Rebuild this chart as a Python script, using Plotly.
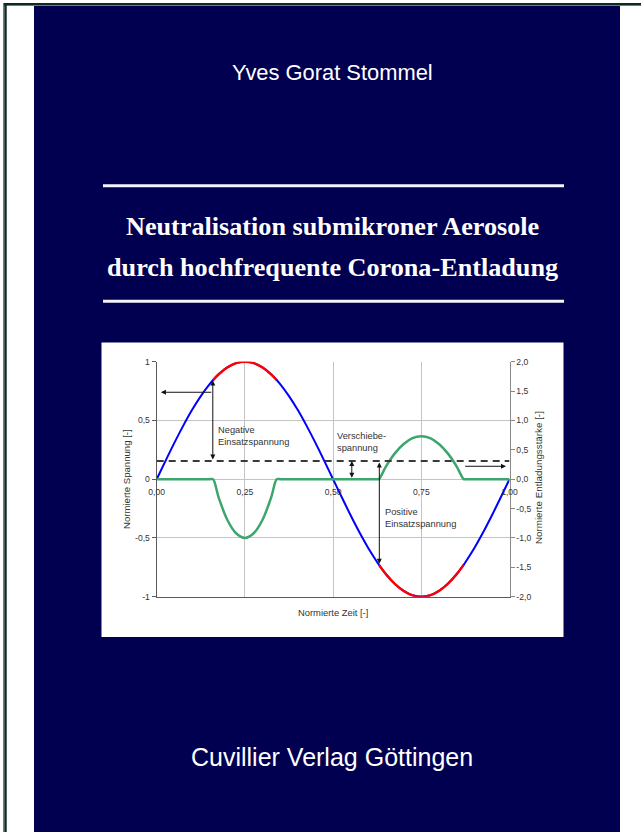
import plotly.graph_objects as go

W, H = 641, 832

# ---------------- data ----------------
time = [0, 0.025, 0.05, 0.075, 0.1, 0.125, 0.15, 0.16, 0.175, 0.2, 0.225, 0.25,
        0.275, 0.3, 0.325, 0.34, 0.35, 0.375, 0.4, 0.425, 0.45, 0.475, 0.5,
        0.525, 0.55, 0.575, 0.6, 0.625, 0.63, 0.65, 0.675, 0.7, 0.725, 0.75,
        0.775, 0.8, 0.825, 0.85, 0.87, 0.875, 0.9, 0.925, 0.95, 0.975, 1.0]
voltage = [0, 0.156, 0.309, 0.454, 0.588, 0.707, 0.809, 0.844, 0.891, 0.951, 0.988, 1.0,
           0.988, 0.951, 0.891, 0.844, 0.809, 0.707, 0.588, 0.454, 0.309, 0.156, 0,
           -0.156, -0.309, -0.454, -0.588, -0.707, -0.729, -0.809, -0.891, -0.951, -0.988, -1.0,
           -0.988, -0.951, -0.891, -0.809, -0.729, -0.707, -0.588, -0.454, -0.309, -0.156, 0]
discharge = [0, 0, 0, 0, 0, 0, 0, 0, -0.30, -0.69, -0.92, -1.0,
             -0.92, -0.69, -0.30, 0, 0, 0, 0, 0, 0, 0, 0,
             0, 0, 0, 0, 0, 0, 0.22, 0.44, 0.60, 0.70, 0.73,
             0.70, 0.60, 0.44, 0.22, 0, 0, 0, 0, 0, 0, 0]
neg_onset = 0.84      # red above this voltage
pos_onset = -0.72     # red below this voltage
shift_voltage = 0.155

x_ticks = [0, 0.25, 0.5, 0.75, 1.0]
x_ticklabels = ["0,00", "0,25", "0,50", "0,75", "1,00"]
y_ticks = [-1, -0.5, 0, 0.5, 1]
y_ticklabels = ["-1", "-0,5", "0", "0,5", "1"]
y2_ticks = [-2, -1.5, -1, -0.5, 0, 0.5, 1, 1.5, 2]
y2_ticklabels = ["-2,0", "-1,5", "-1,0", "-0,5", "0,0", "0,5", "1,0", "1,5", "2,0"]

author = "Yves Gorat Stommel"
title1 = "Neutralisation submikroner Aerosole"
title2 = "durch hochfrequente Corona-Entladung"
publisher = "Cuvillier Verlag Göttingen"

# ---------------- helpers ----------------
def px(x):
    return x / W

def py(y):
    return 1 - y / H

NAVY = "#010050"
SANS = "Liberation Sans, Arial, sans-serif"
SERIF = "Liberation Serif, Times New Roman, serif"
TXT = "#333333"

red_v = [v if (v >= neg_onset or v <= pos_onset) else None for v in voltage]

fig = go.Figure()
fig.add_trace(go.Scatter(x=time, y=voltage, mode="lines", line=dict(color="#0000ff", width=2, shape="spline"),
                         xaxis="x", yaxis="y", showlegend=False, hoverinfo="skip"))
fig.add_trace(go.Scatter(x=time, y=red_v, mode="lines", line=dict(color="#ff0000", width=2.4, shape="spline"),
                         connectgaps=False, xaxis="x", yaxis="y", showlegend=False, hoverinfo="skip"))
fig.add_trace(go.Scatter(x=[0, 1], y=[shift_voltage, shift_voltage], mode="lines",
                         line=dict(color="#3a3a3a", width=2, dash="7px,5px"),
                         xaxis="x2", yaxis="y", showlegend=False, hoverinfo="skip"))
fig.add_trace(go.Scatter(x=time, y=discharge, mode="lines",
                         line=dict(color="#3ca66e", width=2.5, shape="spline", smoothing=0.8),
                         xaxis="x", yaxis="y2", showlegend=False, hoverinfo="skip"))

xdom = [px(156.7), px(509.5)]
ydom = [py(596.7), py(361.7)]
zero_pos = py(479.2)

shapes = []
# navy cover
shapes.append(dict(type="rect", xref="paper", yref="paper", x0=px(34), x1=px(620), y0=py(833), y1=py(6),
                   fillcolor=NAVY, line=dict(width=0), layer="below"))
# outer frame lines
shapes.append(dict(type="line", xref="paper", yref="paper", x0=px(3), x1=px(641), y0=py(5.3), y1=py(5.3),
                   line=dict(color="#6d7f7b", width=1.4), layer="below"))
shapes.append(dict(type="line", xref="paper", yref="paper", x0=px(3), x1=px(641), y0=py(3.9), y1=py(3.9),
                   line=dict(color="#0b2a22", width=2), layer="below"))
shapes.append(dict(type="line", xref="paper", yref="paper", x0=px(3.6), x1=px(3.6), y0=py(3), y1=py(833),
                   line=dict(color="#6d7f7b", width=1.2), layer="below"))
shapes.append(dict(type="line", xref="paper", yref="paper", x0=px(5.5), x1=px(5.5), y0=py(3), y1=py(833),
                   line=dict(color="#0b2a22", width=2.4), layer="below"))
# white rules
for yy in (185.7, 301.3):
    shapes.append(dict(type="line", xref="paper", yref="paper", x0=px(103), x1=px(564), y0=py(yy), y1=py(yy),
                       line=dict(color="#f4f4fc", width=3), layer="below"))
# white chart box
shapes.append(dict(type="rect", xref="paper", yref="paper", x0=px(101.5), x1=px(563.5), y0=py(637), y1=py(342.5),
                   fillcolor="white", line=dict(width=0), layer="below"))

annotations = []
def text(s, x, y, size, family=SANS, color="white", angle=0, xanchor="center", align="center"):
    annotations.append(dict(text=s, x=px(x), y=py(y), xref="paper", yref="paper", showarrow=False,
                            xanchor=xanchor, yanchor="middle", align=align, textangle=angle,
                            font=dict(family=family, size=size, color=color)))

text(author, 332, 73, 21.9)
text("<b>%s</b>" % title1, 332, 227, 26.2, family=SERIF)
text("<b>%s</b>" % title2, 332, 267, 26.2, family=SERIF)
text(publisher, 331.7, 757, 25)

# axis titles
text("Normierte Spannung [-]", 126, 479, 9.6, color=TXT, angle=-90)
text("Normierte Entladungsstärke [-]", 539, 478, 9.8, color=TXT, angle=-90)
text("Normierte Zeit [-]", 333, 612, 9.4, color=TXT)

# in-chart labels (data coordinates)
def dtext(s, t, v):
    annotations.append(dict(text=s, x=t, y=v, xref="x", yref="y", showarrow=False, xanchor="left",
                            yanchor="middle", align="left", font=dict(family=SANS, size=9.3, color=TXT)))

dtext("Negative<br>Einsatzspannung", 0.168, 0.37)
dtext("Verschiebe-<br>spannung", 0.505, 0.32)
dtext("Positive<br>Einsatzspannung", 0.642, -0.33)

def arrow(t0, v0, t1, v1, both=False):
    annotations.append(dict(text="", x=t1, y=v1, ax=t0, ay=v0, xref="x", yref="y", axref="x", ayref="y",
                            showarrow=True, arrowhead=2, arrowsize=1, arrowwidth=1, arrowcolor="#111111",
                            arrowside="end+start" if both else "end", standoff=0, startstandoff=0))

arrow(0.159, 0.155, 0.159, 0.84, both=True)
arrow(0.159, 0.74, 0.012, 0.74)
arrow(0.553, 0.0, 0.553, 0.155, both=True)
arrow(0.631, 0.155, 0.631, -0.72, both=True)
arrow(0.87, 0.11, 0.99, 0.11)

tickfont = dict(family=SANS, size=8.6, color=TXT)
fig.update_layout(
    width=W, height=H, autosize=False,
    margin=dict(l=0, r=0, t=0, b=0, pad=0, autoexpand=False),
    paper_bgcolor="white", plot_bgcolor="white",
    shapes=shapes, annotations=annotations,
    xaxis=dict(domain=xdom, range=[0, 1], tickvals=x_ticks, showticklabels=False, ticks="",
               showgrid=True, gridcolor="#c4c4c4", gridwidth=1, zeroline=False, automargin=False,
               showline=True, linecolor="#5a5a5a", linewidth=1.3, anchor="y", fixedrange=True),
    xaxis2=dict(overlaying="x", anchor="free", position=zero_pos, range=[0, 1], tickvals=x_ticks,
                ticktext=x_ticklabels, tickfont=tickfont, ticks="outside", ticklen=4, automargin=False,
                tickcolor="rgba(0,0,0,0)", showgrid=False, zeroline=False, showline=False, side="bottom"),
    yaxis=dict(domain=ydom, range=[-1, 1], tickvals=y_ticks, ticktext=y_ticklabels, tickfont=tickfont,
               ticks="outside", ticklen=4, tickcolor="#5a5a5a", showgrid=True, gridcolor="#c4c4c4",
               automargin=False,
               zeroline=False, showline=True, linecolor="#5a5a5a", linewidth=1.3, anchor="x"),
    yaxis2=dict(overlaying="y", side="right", anchor="x", range=[-2, 2], tickvals=y2_ticks,
                ticktext=y2_ticklabels, tickfont=tickfont, ticks="outside", ticklen=4, tickcolor="#888888",
                automargin=False,
                showgrid=False, zeroline=False, showline=True, linecolor="#8a8a8a", linewidth=1.3),
)

fig.write_html("out.html", config={"displayModeBar": False},
               post_script="document.body.style.margin='0';")
